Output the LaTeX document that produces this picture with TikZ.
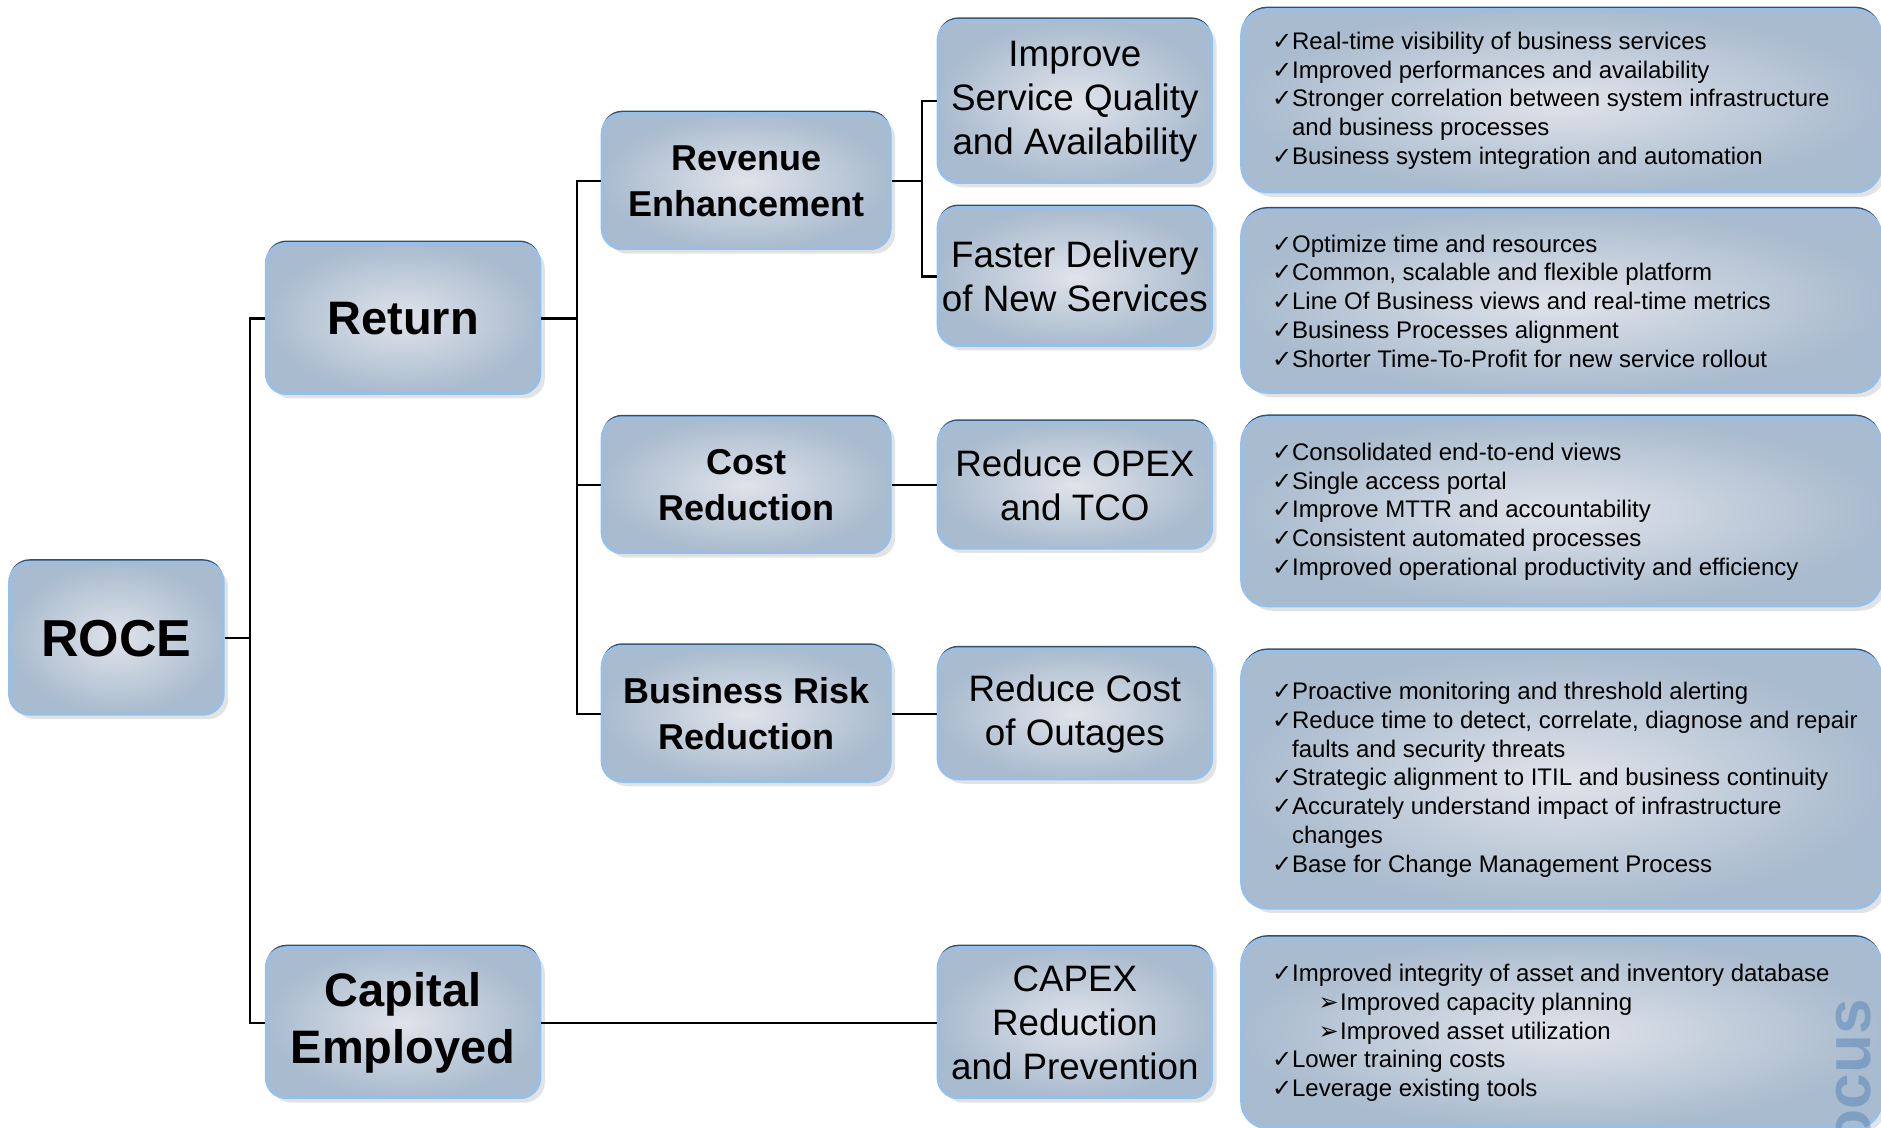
\documentclass[tikz,border=0pt]{standalone}
\usepackage{fontspec}
\setmainfont{Liberation Sans}
\newfontfamily\symfont{DejaVu Sans}
\usetikzlibrary{positioning, shadows}
\definecolor{cardin}{HTML}{E0E3EA}
\definecolor{cardout}{HTML}{A9BBCE}
\definecolor{cardrim}{HTML}{98BFE8}
\definecolor{cardtop}{HTML}{3A4E5E}
\definecolor{wmark}{HTML}{4A7DB5}
\tikzset{
    card/.style={rectangle, rounded corners=10pt, draw=cardrim, line width=1.5pt,
        inner color=cardin, outer color=cardout, align=center, inner sep=1pt,
        drop shadow={shadow xshift=2.5pt, shadow yshift=-2.5pt, opacity=0.22},
        preaction={fill=cardtop, transform canvas={yshift=1.5pt}}},
    rootcard/.style={card, font=\bfseries\fontsize{26}{30}\selectfont},
    major/.style={card, minimum width=136.8pt, minimum height=75pt, font=\bfseries\fontsize{23.5}{28.8}\selectfont},
    driver/.style={card, minimum width=144pt, minimum height=67.5pt, font=\bfseries\fontsize{18}{22.8}\selectfont},
    lever/.style={card, minimum width=136.8pt, font=\fontsize{18.4}{22}\selectfont},
    benefit/.style={card, rounded corners=13pt, minimum width=319.8pt},
    points/.style={align=left, inner sep=0pt, font=\fontsize{12}{14.4}\selectfont},
    watermark/.style={rotate=90, anchor=base east, text=wmark, opacity=0.45, font=\bfseries\fontsize{32}{32}\selectfont},
    link/.style={draw, line width=1.1pt} }
\newcommand{\tick}{\makebox[10.8pt][l]{\hspace{0.8pt}\symfont\fontsize{12}{10}\selectfont ✓}}
\newcommand{\subpt}{\hspace*{24pt}\makebox[10.8pt][l]{\symfont\fontsize{12}{12}\selectfont ➢}}
\newcommand{\cont}{\hspace*{10.8pt}}

\begin{document}
\begin{tikzpicture}[x=0.6pt, y=-0.6pt]
	\useasboundingbox (0,0) rectangle (1568,940);
	\node[rootcard, minimum width=106.8pt, minimum height=76pt] (roce) at (97,532) {ROCE};
	\node[major] (ret) at (336,265.5) {Return};
	\node[major] (cap) at (336,852.5) {Capital\\Employed};
	\node[driver] (rev) at (622,151) {Revenue\\Enhancement};
	\node[driver] (cost) at (622,404.5) {Cost\\Reduction};
	\node[driver] (risk) at (622,595) {Business Risk\\Reduction};
	\node[lever, minimum height=81pt] (qual) at (896,84.5) {Improve\\Service Quality\\and Availability};
	\node[lever, minimum height=69pt] (fast) at (896,230.5) {Faster Delivery\\of New Services};
	\node[lever, minimum height=63pt] (opex) at (896,404.5) {Reduce OPEX\\and TCO};
	\node[lever, minimum height=65pt] (outage) at (896,595) {Reduce Cost\\of Outages};
	\node[lever, minimum height=75pt] (capex) at (896,852.5) {CAPEX\\Reduction\\and Prevention};
	% ----
	\node[benefit, minimum height=91.2pt] (b1) at (1301.5,84) {};
	\node[benefit, minimum height=91.2pt] (b2) at (1301.5,251) {};
	\node[benefit, minimum height=94.2pt] (b3) at (1301.5,426.5) {};
	\node[benefit, minimum height=128.4pt] (b4) at (1301.5,650) {};
	\node[benefit, minimum height=94.8pt] (b5) at (1301.5,861) {};
	\node[watermark] (focus) at (1559,827) {Focus};
	\node[points, right=15pt of b1.west] (t1) {\tick Real-time visibility of business services\\
		\tick Improved performances and availability\\
		\tick Stronger correlation between system infrastructure\\
		\cont and business processes\\
		\tick Business system integration and automation};
	\node[points, right=15pt of b2.west] (t2) {\tick Optimize time and resources\\
		\tick Common, scalable and flexible platform\\
		\tick Line Of Business views and real-time metrics\\
		\tick Business Processes alignment\\
		\tick Shorter Time-To-Profit for new service rollout};
	\node[points, right=15pt of b3.west] (t3) {\tick Consolidated end-to-end views\\
		\tick Single access portal\\
		\tick Improve MTTR and accountability\\
		\tick Consistent automated processes\\
		\tick Improved operational productivity and efficiency};
	\node[points, right=15pt of b4.west] (t4) {\tick Proactive monitoring and threshold alerting\\
		\tick Reduce time to detect, correlate, diagnose and repair\\
		\cont faults and security threats\\
		\tick Strategic alignment to ITIL and business continuity\\
		\tick Accurately understand impact of infrastructure\\
		\cont changes\\
		\tick Base for Change Management Process};
	\node[points, right=15pt of b5.west] (t5) {\tick Improved integrity of asset and inventory database\\
		\subpt Improved capacity planning\\
		\subpt Improved asset utilization\\
		\tick Lower training costs\\
		\tick Leverage existing tools};
	% ----
	\draw[link] (roce.east) -- ++(21,0) coordinate (j1);
	\draw[link] (ret.west) -| (j1) |- (cap.west);
	\draw[link] (ret.east) -- ++(30,0) coordinate (j2);
	\draw[link] (rev.west) -| (j2) |- (risk.west);
	\draw[link] (j2 |- cost.west) -- (cost.west);
	\draw[link] (rev.east) -- ++(25,0) coordinate (j3);
	\draw[link] (qual.west) -| (j3) |- (fast.west);
	\draw[link] (cost) -- (opex);
	\draw[link] (risk) -- (outage);
	\draw[link] (cap) -- (capex);
\end{tikzpicture}
\end{document}
